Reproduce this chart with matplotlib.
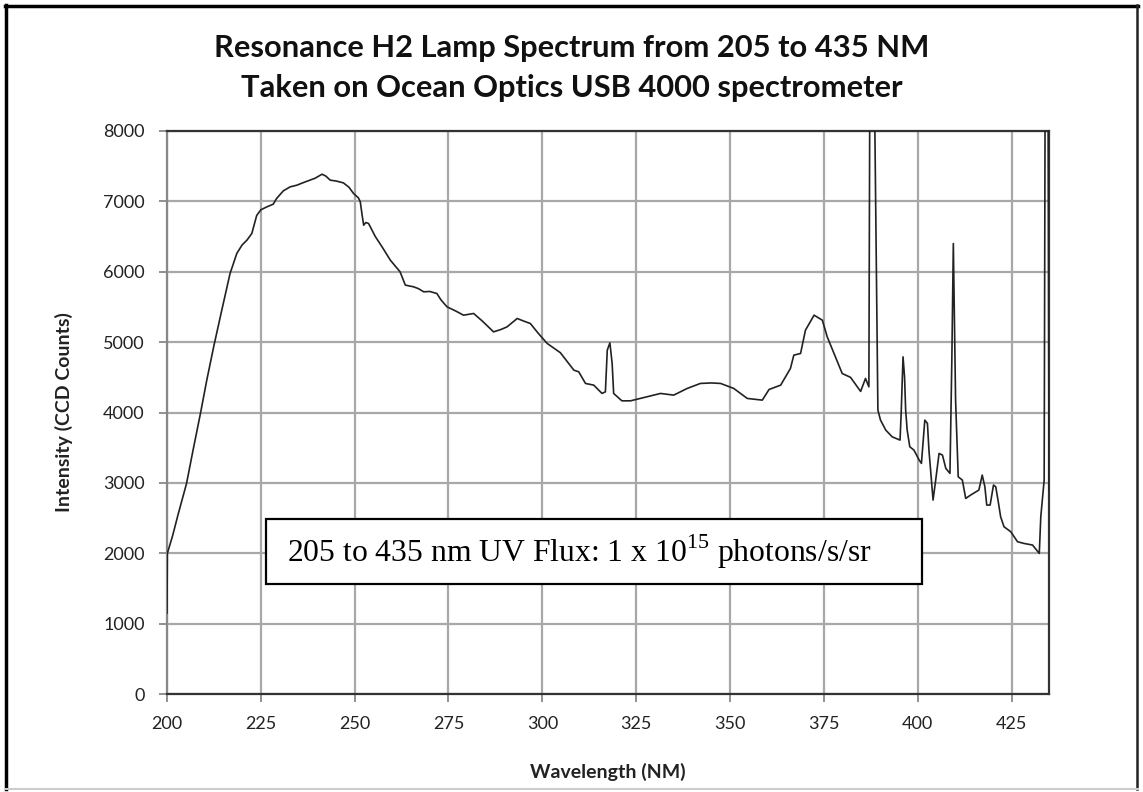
import matplotlib
matplotlib.use("Agg")
import matplotlib.pyplot as plt
from matplotlib.patches import Rectangle
from matplotlib.lines import Line2D

plt.rcParams['mathtext.fontset'] = 'custom'
plt.rcParams['mathtext.rm'] = 'Liberation Serif'

wavelength = [
    200.0, 200.1, 201.5, 203.0, 205.2, 207.0, 209.0, 210.6, 212.5, 214.6,
    216.8, 218.6, 220.0, 221.3, 222.6, 223.9, 225.0, 226.6, 228.3, 229.2,
    231.0, 232.8, 234.6, 236.0, 238.1, 239.5, 241.3, 242.3, 243.5, 245.0,
    247.0, 248.5, 249.7, 251.0, 251.5, 252.0, 252.4, 253.0, 253.7, 255.5,
    257.3, 259.5, 262.1, 263.5, 265.7, 267.0, 268.4, 270.0, 271.9, 273.0,
    274.6, 277.0, 279.0, 281.7, 284.0, 287.0, 289.0, 290.6, 293.3, 295.0,
    296.8, 299.0, 301.3, 304.8, 307.0, 308.4, 309.7, 311.5, 313.7, 315.9,
    316.8, 317.3, 318.0, 318.6, 319.0, 321.2, 323.5, 326.1, 328.5, 331.5,
    335.0, 338.6, 342.1, 345.0, 347.5, 351.0, 354.6, 358.6, 360.4, 363.5,
    366.1, 367.0, 368.8, 370.1, 372.4, 374.6, 375.9, 377.7, 379.9, 382.1,
    384.8, 386.1, 387.0, 387.3, 388.3, 389.0, 389.4, 390.1, 391.5, 393.2,
    395.3, 395.6, 396.1, 396.5, 396.8, 397.2, 397.9, 399.0, 400.4, 401.0,
    401.9, 402.6, 403.0, 403.5, 404.1, 404.8, 405.7, 406.6, 407.5, 408.6,
    409.1, 409.5, 410.1, 410.8, 411.9, 412.8, 414.1, 416.3, 417.2, 417.9,
    418.4, 419.3, 420.2, 420.8, 421.4, 422.1, 423.0, 424.8, 426.6, 428.3,
    430.6, 432.4, 432.8, 433.7, 434.0, 434.7, 435.0,
]
intensity = [
    1150, 2000, 2250, 2560, 2990, 3480, 4010, 4460, 4950, 5455,
    5975, 6260, 6380, 6449, 6544, 6800, 6880, 6922, 6960, 7041,
    7150, 7206, 7230, 7260, 7301, 7330, 7386, 7360, 7301, 7290,
    7263, 7200, 7112, 7050, 6993, 6800, 6662, 6700, 6686, 6500,
    6354, 6165, 5999, 5810, 5786, 5760, 5715, 5720, 5691, 5600,
    5502, 5440, 5383, 5407, 5300, 5146, 5180, 5217, 5336, 5300,
    5265, 5120, 4981, 4850, 4700, 4602, 4578, 4413, 4389, 4271,
    4294, 4886, 4990, 4697, 4271, 4166, 4166, 4200, 4230, 4271,
    4247, 4342, 4413, 4420, 4413, 4342, 4200, 4176, 4327, 4389,
    4626, 4815, 4839, 5170, 5383, 5312, 5075, 4839, 4554, 4500,
    4300, 4484, 4365, 9500, 9500, 6000, 4034, 3892, 3750, 3655,
    3608, 3987, 4791, 4507, 4034, 3750, 3513, 3466, 3324, 3277,
    3892, 3845, 3466, 3135, 2756, 3040, 3419, 3395, 3206, 3135,
    4744, 6400, 4176, 3087, 3040, 2779, 2827, 2898, 3111, 2945,
    2685, 2685, 2969, 2945, 2756, 2519, 2377, 2306, 2164, 2140,
    2117, 1998, 2519, 3040, 9500, 9500, 2900,
]
x_ticks = [200, 225, 250, 275, 300, 325, 350, 375, 400, 425]
y_ticks = [0, 1000, 2000, 3000, 4000, 5000, 6000, 7000, 8000]

title_line1 = "Resonance H2 Lamp Spectrum from 205 to 435 NM"
title_line2 = "Taken on Ocean Optics USB 4000 spectrometer"
x_label = "Wavelength (NM)"
y_label = "Intensity (CCD Counts)"
note = "205 to 435 nm UV Flux: 1 x 10$^{15}$ photons/s/sr"

fig = plt.figure(figsize=(11.43, 7.92), dpi=100)
ax = fig.add_axes([0.1461, 0.1237, 0.9178 - 0.1461, 0.8346 - 0.1237])

ax.plot(wavelength, intensity, color='#222222', lw=1.2, zorder=3)
ax.set_xlim(200, 435)
ax.set_ylim(0, 8000)
ax.set_xticks(x_ticks)
ax.set_yticks(y_ticks)
ax.grid(True, color='#a8a8a8', lw=1.6, zorder=1)
ax.set_axisbelow(True)

for lab in ax.get_xticklabels() + ax.get_yticklabels():
    lab.set_fontfamily('Lato')
    lab.set_fontsize(13)
ax.tick_params(axis='both', length=6, width=1.3, color='#888888', labelcolor='#222222')
ax.tick_params(axis='x', pad=10)
ax.tick_params(axis='y', pad=10)

for side in ['top', 'right', 'bottom']:
    ax.spines[side].set_color('#333333')
    ax.spines[side].set_linewidth(1.6)
ax.spines['left'].set_color('#888888')
ax.spines['left'].set_linewidth(1.6)

ax.set_xlabel(x_label, fontfamily='Lato', fontweight='bold', fontsize=14, labelpad=22, color='#222222')
ax.set_ylabel(y_label, fontfamily='Lato', fontweight='bold', fontsize=14, labelpad=22, color='#222222')

fig.text(0.5, 1 - 48 / 792, title_line1, ha='center', va='center', fontfamily='Lato',
         fontweight='bold', fontsize=22.2, color='#111111')
fig.text(0.5, 1 - 88 / 792, title_line2, ha='center', va='center', fontfamily='Lato',
         fontweight='bold', fontsize=22.2, color='#111111')

# annotation box
bx0, bx1 = (266 - 167) / 882, (922 - 167) / 882
by0, by1 = (694 - 584) / 563, (694 - 519) / 563
ax.add_patch(Rectangle((bx0, by0), bx1 - bx0, by1 - by0, transform=ax.transAxes,
                       facecolor='white', edgecolor='black', lw=1.6, zorder=5, clip_on=False))
ax.text((287 - 167) / 882, (by0 + by1) / 2, note, transform=ax.transAxes, ha='left', va='center',
        fontfamily='Liberation Serif', fontsize=22.8, color='black', zorder=6)

# figure border
W, H = 1143, 792
def fl(x0, y0, x1, y1, c, lw):
    fig.add_artist(Line2D([x0 / W, x1 / W], [1 - y0 / H, 1 - y1 / H], transform=fig.transFigure, color=c, lw=lw))
fl(6, 5, 6, 789, 'black', 2.5)
fl(5, 6, 1138, 6, 'black', 2.5)
fl(1137, 5, 1137, 789, '#222222', 1.8)
fl(5, 789, 1138, 789, '#cccccc', 1.5)

fig.savefig('out.png', dpi=100)
